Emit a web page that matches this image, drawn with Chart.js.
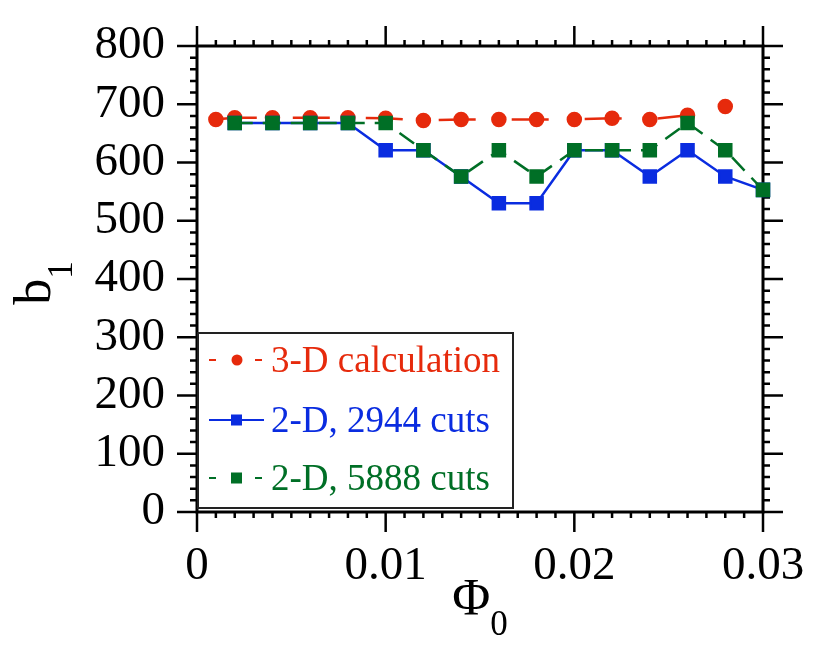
<!DOCTYPE html>
<html>
<head>
<meta charset="UTF-8">
<title>b1 vs Phi0</title>
<script src="https://cdn.jsdelivr.net/npm/chart.js"></script>
<style>
  html, body { margin: 0; padding: 0; background: #fff; }
  #wrap { width: 817px; height: 647px; }
</style>
</head>
<body>
<div id="wrap"><canvas id="c" width="817" height="647"></canvas></div>
<script>
// --- data ---
const phi3D = [0.001, 0.002, 0.004, 0.006, 0.008, 0.010, 0.012, 0.014, 0.016, 0.018, 0.020, 0.022, 0.024, 0.026, 0.028];
const b3D   = [674, 677, 677, 677, 677, 676, 672, 674, 674, 674, 674, 676, 674, 681, 696];

const phi2D = [0.002, 0.004, 0.006, 0.008, 0.010, 0.012, 0.014, 0.016, 0.018, 0.020, 0.022, 0.024, 0.026, 0.028, 0.030];
const b2944 = [668, 668, 668, 668, 621, 621, 576, 530, 530, 621, 621, 576, 621, 576, 553];
const b5888 = [668, 668, 668, 668, 668, 621, 576, 621, 576, 621, 621, 621, 668, 621, 553];

const xTicks = [0, 0.01, 0.02, 0.03];
const yTicks = [0, 100, 200, 300, 400, 500, 600, 700, 800];

const labels = ['3-D calculation', '2-D, 2944 cuts', '2-D, 5888 cuts'];
const colors = ['#e62a0c', '#0a2ce0', '#006f26'];

const SERIF = "'Liberation Serif', 'DejaVu Serif', serif";
Chart.defaults.font.family = SERIF;
Chart.defaults.color = '#000';

const pts = (xs, ys) => xs.map((x, i) => ({ x: x, y: ys[i] }));

// frame with ticks on all four sides (pointing outward)
const framePlugin = {
    id: 'frame',
    beforeDatasetsDraw(chart) {
        const { ctx, chartArea: a, scales } = chart;
        const xs = scales.x, ys = scales.y;
        ctx.save();
        ctx.strokeStyle = '#000';
        ctx.lineWidth = 3;
        ctx.strokeRect(a.left, a.top, a.right - a.left, a.bottom - a.top);
        ctx.lineWidth = 2.5;
        ctx.beginPath();
        for (let i = 0; i <= 30; i++) {
            const px = xs.getPixelForValue(i / 1000);
            const len = i % 10 === 0 ? 20 : 6;
            ctx.moveTo(px, a.bottom); ctx.lineTo(px, a.bottom + len);
            ctx.moveTo(px, a.top); ctx.lineTo(px, a.top - len);
        }
        for (let i = 0; i <= 40; i++) {
            const py = ys.getPixelForValue(i * 20);
            const len = i % 5 === 0 ? 20 : 7;
            ctx.moveTo(a.left, py); ctx.lineTo(a.left - len, py);
            ctx.moveTo(a.right, py); ctx.lineTo(a.right + len, py);
        }
        ctx.stroke();
        ctx.restore();
    }
};

// axis titles with subscripts
const titlePlugin = {
    id: 'titles',
    afterDraw(chart) {
        const { ctx, chartArea: a } = chart;
        ctx.save();
        ctx.fillStyle = '#000';
        ctx.textBaseline = 'alphabetic';
        // x title: Phi_0
        ctx.font = '52px ' + SERIF;
        const wPhi = ctx.measureText('\u03A6').width;
        ctx.font = '35px ' + SERIF;
        const w0 = ctx.measureText('0').width;
        let x0 = (a.left + a.right) / 2 - (wPhi + w0) / 2;
        ctx.font = '52px ' + SERIF;
        ctx.fillText('\u03A6', x0, 615);
        ctx.font = '35px ' + SERIF;
        ctx.fillText('0', x0 + wPhi, 635);
        // y title: b_1, rotated
        ctx.font = '52px ' + SERIF;
        const wb = ctx.measureText('b').width;
        ctx.font = '35px ' + SERIF;
        const w1 = ctx.measureText('1').width;
        const yc = (a.top + a.bottom) / 2 + 4;
        ctx.translate(50, yc + (wb + w1) / 2);
        ctx.rotate(-Math.PI / 2);
        ctx.font = '52px ' + SERIF;
        ctx.fillText('b', 0, 0);
        ctx.font = '35px ' + SERIF;
        ctx.fillText('1', wb, 22);
        ctx.restore();
    }
};

// legend box in the lower left of the plot
const legendPlugin = {
    id: 'boxLegend',
    afterDatasetsDraw(chart) {
        const { ctx, chartArea: a } = chart;
        const left = a.left + 1, top = 333, w = 315, h = 175;
        ctx.save();
        ctx.fillStyle = '#fff';
        ctx.fillRect(left, top, w, h);
        ctx.strokeStyle = '#222';
        ctx.lineWidth = 2;
        ctx.strokeRect(left, top, w, h);

        const rows = [360, 420, 478];
        const bases = [372, 432, 490];
        const dashed = [true, false, true];
        rows.forEach((ry, i) => {
            ctx.strokeStyle = colors[i];
            ctx.fillStyle = colors[i];
            ctx.lineWidth = 2;
            ctx.setLineDash(dashed[i] ? [7, 16] : []);
            ctx.beginPath();
            ctx.moveTo(209, ry); ctx.lineTo(264, ry);
            ctx.stroke();
            ctx.setLineDash([]);
            if (i === 0) {
                ctx.beginPath(); ctx.arc(237, ry, 5.5, 0, Math.PI * 2); ctx.fill();
            } else {
                ctx.fillRect(231, ry - 5.5, 11, 11);
            }
            ctx.font = '37px ' + SERIF;
            ctx.textBaseline = 'alphabetic';
            ctx.fillText(labels[i], 271, bases[i]);
        });
        ctx.restore();
    }
};

new Chart(document.getElementById('c'), {
    type: 'line',
    data: {
        datasets: [
            { label: labels[0], data: pts(phi3D, b3D), borderColor: colors[0], backgroundColor: colors[0],
              borderWidth: 2.5, borderDash: [37, 36], borderDashOffset: 69,
              pointStyle: 'circle', pointRadius: 6.5, order: 3, clip: false },
            { label: labels[1], data: pts(phi2D, b2944), borderColor: colors[1], backgroundColor: colors[1],
              borderWidth: 2.5, pointStyle: 'rect', pointRadius: 8.5, order: 2, clip: false },
            { label: labels[2], data: pts(phi2D, b5888), borderColor: colors[2], backgroundColor: colors[2],
              borderWidth: 2.5, borderDash: [18, 10], pointStyle: 'rect', pointRadius: 8.5, order: 1, clip: false }
        ]
    },
    options: {
        responsive: false,
        animation: false,
        devicePixelRatio: 1,
        layout: { padding: { left: 0, top: 46, right: 54, bottom: 0 } },
        plugins: { legend: { display: false }, tooltip: { enabled: false } },
        elements: { line: { tension: 0 }, point: { borderWidth: 0 } },
        scales: {
            x: {
                type: 'linear', min: 0, max: 0.03,
                grid: { display: false, drawTicks: false },
                border: { display: false },
                afterBuildTicks: s => { s.ticks = xTicks.map(v => ({ value: v })); },
                afterFit: s => { s.height = 135; s.paddingLeft = 0; s.paddingRight = 0; },
                ticks: {
                    font: { size: 47, family: SERIF }, color: '#000', padding: 26, maxRotation: 0, autoSkip: false,
                    callback: v => v === 0 ? '0' : v.toFixed(2)
                }
            },
            y: {
                type: 'linear', min: 0, max: 800,
                grid: { display: false, drawTicks: false },
                border: { display: false },
                afterBuildTicks: s => { s.ticks = yTicks.map(v => ({ value: v })); },
                afterFit: s => { s.width = 197; s.paddingTop = 0; s.paddingBottom = 0; },
                ticks: { font: { size: 47, family: SERIF }, color: '#000', padding: 32, autoSkip: false }
            }
        }
    },
    plugins: [framePlugin, legendPlugin, titlePlugin]
});
</script>
</body>
</html>
